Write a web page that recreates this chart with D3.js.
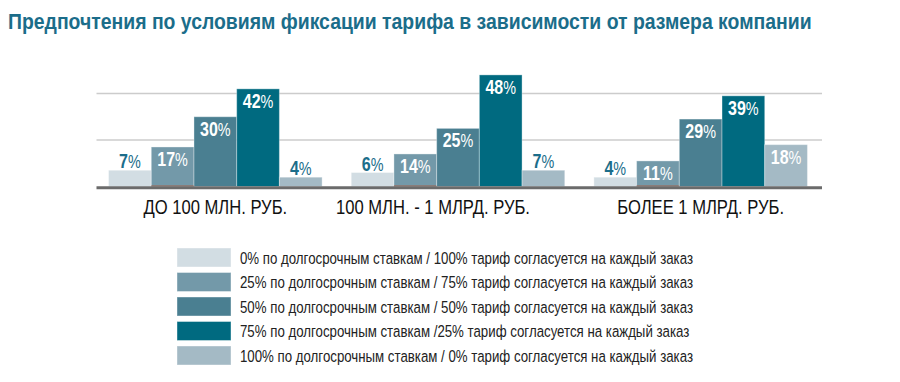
<!DOCTYPE html>
<html><head><meta charset="utf-8">
<script src="https://cdn.jsdelivr.net/npm/d3@7"></script>
<style>body{margin:0;background:#fff}svg{display:block}</style>
</head><body><svg id="c" width="900" height="382"></svg>
<script>
const title = "Предпочтения по условиям фиксации тарифа в зависимости от размера компании";
const categories = ["ДО 100 МЛН. РУБ.", "100 МЛН. - 1 МЛРД. РУБ.", "БОЛЕЕ 1 МЛРД. РУБ."];
const seriesNames = [
  "0% по долгосрочным ставкам / 100% тариф согласуется на каждый заказ",
  "25% по долгосрочным ставкам / 75% тариф согласуется на каждый заказ",
  "50% по долгосрочным ставкам / 50% тариф согласуется на каждый заказ",
  "75% по долгосрочным ставкам /25% тариф согласуется на каждый заказ",
  "100% по долгосрочным ставкам / 0% тариф согласуется на каждый заказ"
];
const s0 = [7, 6, 4];
const s1 = [17, 14, 11];
const s2 = [30, 25, 29];
const s3 = [42, 48, 39];
const s4 = [4, 7, 18];
const gridTicks = [20, 40];
const colors = ["#d2dde3", "#7399a9", "#4a7f91", "#006a80", "#a4bac5"];

const seriesValues = [s0, s1, s2, s3, s4];
const svg = d3.select("#c");
const FONT = "'Liberation Sans Narrow','Liberation Sans',Arial,sans-serif";

// horizontally condense a text: keeps it real text
function condense(sel, f) {
  sel.each(function () {
    const t = d3.select(this);
    const x = +t.attr("x") || 0, yy = +t.attr("y") || 0;
    t.attr("x", 0).attr("y", 0).attr("transform", `translate(${x},${yy}) scale(${f},1)`);
  });
}
function fitWidth(sel, w) {
  sel.each(function () {
    const L = this.getComputedTextLength();
    condense(d3.select(this), w / L);
  });
}

const x0 = d3.scaleBand().domain(categories).range([94, 822]).paddingInner(0.12).paddingOuter(0.06);
const x1 = d3.scaleBand().domain(d3.range(5)).range([0, x0.bandwidth()]);
const y = d3.scaleLinear().domain([0, 50]).range([186.5, 70.25]);

// title
const tt = svg.append("text").attr("x", 8).attr("y", 29)
  .attr("font-family", FONT).attr("font-weight", "bold").attr("font-size", 22.5)
  .attr("fill", "#1b6d8a").text(title);
fitWidth(tt, 804);

// gridlines
svg.append("g").selectAll("line").data(gridTicks).join("line")
  .attr("x1", 96.5).attr("x2", 822)
  .attr("y1", d => y(d)).attr("y2", d => y(d))
  .attr("stroke", "#cccccc").attr("stroke-width", 1.5);

// bars
const groups = svg.append("g").selectAll("g").data(categories).join("g")
  .attr("transform", d => `translate(${x0(d)},0)`);

const cells = groups.selectAll("g.cell")
  .data((c, ci) => seriesValues.map((s, si) => ({si, ci, v: s[ci]})))
  .join("g").attr("class", "cell");

cells.append("rect")
  .attr("x", d => x1(d.si)).attr("width", x1.bandwidth())
  .attr("y", d => y(d.v)).attr("height", d => y(0) - y(d.v))
  .attr("fill", d => colors[d.si])
  .attr("stroke", "#ffffff").attr("stroke-opacity", 0.35).attr("stroke-width", 1);

// brownish bottom on second series
cells.filter(d => d.si === 1).append("line")
  .attr("x1", d => x1(d.si)).attr("x2", d => x1(d.si) + x1.bandwidth())
  .attr("y1", y(0) - 0.5).attr("y2", y(0) - 0.5)
  .attr("stroke", "#a0604a").attr("stroke-width", 1);

const lbl = cells.append("text")
  .attr("x", d => x1(d.si) + x1.bandwidth() / 2)
  .attr("y", d => d.v < 10 ? y(d.v) - 2 : y(d.v) + 19)
  .attr("text-anchor", "middle")
  .attr("font-family", FONT).attr("font-weight", "bold").attr("font-size", 20)
  .attr("fill", d => d.v < 10 ? "#1b6d8a" : "#ffffff");
lbl.append("tspan").text(d => d.v);
lbl.append("tspan").attr("font-weight", "normal").attr("font-size", 18).text("%");
condense(lbl, 0.8);

// baseline
svg.append("line").attr("x1", 96.5).attr("x2", 822)
  .attr("y1", y(0) + 1.2).attr("y2", y(0) + 1.2)
  .attr("stroke", "#6b6b6b").attr("stroke-width", 3);

// category labels
const cl = svg.append("g").selectAll("text").data(categories).join("text")
  .attr("x", (d, i) => x0(d) + x0.bandwidth() / 2 + (i === 1 ? -25 : 0))
  .attr("y", 214)
  .attr("text-anchor", "middle")
  .attr("font-family", FONT).attr("font-size", 20).attr("fill", "#111")
  .text(d => d);
condense(cl, 0.83);

// legend
const leg = svg.append("g").selectAll("g").data(seriesNames).join("g")
  .attr("transform", (d, i) => `translate(177,${248 + i * 24.5})`);
leg.append("rect").attr("width", 54).attr("height", 19)
  .attr("fill", (d, i) => colors[i])
  .attr("stroke", "#ffffff").attr("stroke-opacity", 0.4);
const lt = leg.append("text").attr("x", 63).attr("y", 15.5)
  .attr("font-family", FONT).attr("font-size", 17).attr("fill", "#222")
  .text(d => d);
condense(lt, 0.78);
</script></body></html>
